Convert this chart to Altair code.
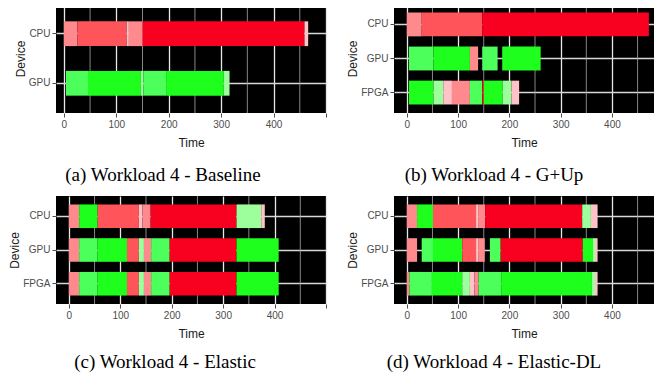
import altair as alt
import pandas as pd

# colour categories: r1 very light pink, r2 light pink, r3 medium red, r4 full red,
# g1 light green, g2 medium green, g3 full green
kinds = ["r1", "r2", "r3", "r4", "g1", "g2", "g3"]
kind_colors = ["#ffc2c6", "#ff8a8e", "#ff5459", "#f8001f", "#9cff9c", "#4dff5a", "#1eff1e"]

# (a) Baseline
a_device = ["CPU"] * 6 + ["GPU"] * 6
a_start = [0, 26, 120, 124, 150, 459, 4, 46, 147, 152, 195, 305]
a_end = [26, 120, 124, 150, 459, 466, 46, 147, 152, 195, 305, 316]
a_kind = ["r2", "r3", "r1", "r2", "r4", "r1", "g2", "g3", "g1", "g2", "g3", "g1"]

# (b) G+Up
b_device = ["CPU"] * 3 + ["GPU"] * 5 + ["FPGA"] * 9
b_start = [0, 29, 147, 4, 52, 123, 147, 186, 4, 52, 71, 88, 123, 147, 150, 187, 204]
b_end = [29, 147, 472, 52, 123, 139, 177, 261, 52, 71, 88, 123, 147, 150, 187, 204, 219]
b_kind = ["r2", "r3", "r4", "g2", "g3", "r2", "g2", "g3",
          "g3", "g1", "r1", "r2", "g2", "r4", "g3", "g1", "r1"]

# (c) Elastic
c_device = ["CPU"] * 8 + ["GPU"] * 9 + ["FPGA"] * 9
c_start = [0, 20, 56, 136, 143, 159, 326, 374,
           0, 20, 56, 113, 136, 146, 160, 196, 326,
           0, 20, 56, 113, 136, 146, 160, 196, 326]
c_end = [20, 56, 136, 143, 159, 326, 374, 381,
         20, 56, 113, 136, 146, 160, 196, 326, 408,
         20, 56, 113, 136, 146, 160, 196, 326, 408]
c_kind = ["r2", "g3", "r3", "r1", "r2", "r4", "g1", "r1",
          "r2", "g2", "g3", "r3", "g1", "r2", "g2", "r4", "g3",
          "r2", "g2", "g3", "r3", "g1", "r2", "g2", "r4", "g3"]

# (d) Elastic-DL
d_device = ["CPU"] * 8 + ["GPU"] * 11 + ["FPGA"] * 10
d_start = [0, 20, 51, 135, 139, 153, 342, 359,
           0, 29, 51, 108, 135, 139, 162, 183, 343, 363, 367,
           0, 5, 49, 108, 123, 132, 140, 184, 361, 367]
d_end = [20, 51, 135, 139, 153, 342, 359, 372,
         20, 51, 108, 135, 139, 152, 183, 343, 363, 367, 372,
         5, 49, 108, 123, 132, 140, 184, 361, 367, 372]
d_kind = ["r2", "g3", "r3", "r1", "r2", "r4", "g1", "r1",
          "r2", "g2", "g3", "r3", "r1", "r2", "g2", "r4", "g3", "g1", "r1",
          "r2", "g2", "g3", "g1", "r1", "r2", "g2", "g3", "g1", "r1"]

major_ticks = [0, 100, 200, 300, 400, 500]
minor_ticks = [50, 150, 250, 350, 450]

captions = ["(a) Workload 4 - Baseline", "(b) Workload 4 - G+Up",
            "(c) Workload 4 - Elastic", "(d) Workload 4 - Elastic-DL"]


def panel(device, start, end, kind, devices, xdom, width, height, pin, pout,
          caption, dx, offset):
    df = pd.DataFrame({"device": device, "start": start, "end": end, "kind": kind})
    xscale = alt.Scale(domain=xdom, nice=False, zero=False)
    minor = alt.Chart(pd.DataFrame({"t": minor_ticks})).mark_rule(
        color="#a8a8a8", strokeWidth=0.8, clip=True
    ).encode(x=alt.X("t:Q", scale=xscale))
    bars = alt.Chart(df).mark_bar(clip=True, strokeWidth=0).encode(
        x=alt.X("start:Q", scale=xscale,
                axis=alt.Axis(title="Time", values=major_ticks, grid=True,
                              gridColor="#e8e8e8", gridWidth=1.3,
                              titleFontWeight="normal", titlePadding=8,
                              labelExpr="datum.value >= 500 ? '' : datum.label")),
        x2="end:Q",
        y=alt.Y("device:N", sort=devices,
                scale=alt.Scale(paddingInner=pin, paddingOuter=pout),
                axis=alt.Axis(title="Device", grid=True, gridColor="#d8d8d8",
                              titleFontWeight="normal", titlePadding=1,
                              gridWidth=1.3, bandPosition=0.5)),
        color=alt.Color("kind:N", scale=alt.Scale(domain=kinds, range=kind_colors),
                        legend=None),
    )
    return alt.layer(minor, bars).properties(
        width=width, height=height,
        view=alt.ViewBackground(fill="black", strokeWidth=0),
        title=alt.TitleParams(text=caption, orient="bottom", anchor="middle",
                              font="Liberation Serif", fontSize=19,
                              fontWeight="normal", color="black",
                              offset=offset, dx=dx),
    )


pa = panel(a_device, a_start, a_end, a_kind, ["CPU", "GPU"], [-15, 500], 270, 109,
           0.5, 0.35, captions[0], -28, 18)
pb = panel(b_device, b_start, b_end, b_kind, ["CPU", "GPU", "FPGA"], [-25, 482], 260, 109,
           0.3, 0.25, captions[1], -30, 18)
pc = panel(c_device, c_start, c_end, c_kind, ["CPU", "GPU", "FPGA"], [-25, 500], 270, 108,
           0.3, 0.25, captions[2], -26, 14)
pd_ = panel(d_device, d_start, d_end, d_kind, ["CPU", "GPU", "FPGA"], [-25, 482], 260, 108,
            0.3, 0.25, captions[3], -30, 14)

row1 = alt.hconcat(pa, pb, spacing=19)
row2 = alt.hconcat(pc, pd_, spacing=19)
chart = alt.vconcat(row1, row2, spacing=11).properties(
    padding={"left": 0, "top": -4, "right": 0, "bottom": 0},
    autosize=alt.AutoSizeParams(type="pad"),
).configure_view(
    fill="black", stroke=None
).configure_axis(
    labelColor="#4d4d4d", labelFont="Liberation Sans", labelFontSize=10,
    titleFont="Liberation Sans", titleFontSize=12, titleFontWeight="normal",
    titleColor="#1a1a1a", tickColor="#4d4d4d", tickSize=4, domain=False,
    labelPadding=2,
)

chart.save("out.html", embed_options={"renderer": "svg", "actions": False})
